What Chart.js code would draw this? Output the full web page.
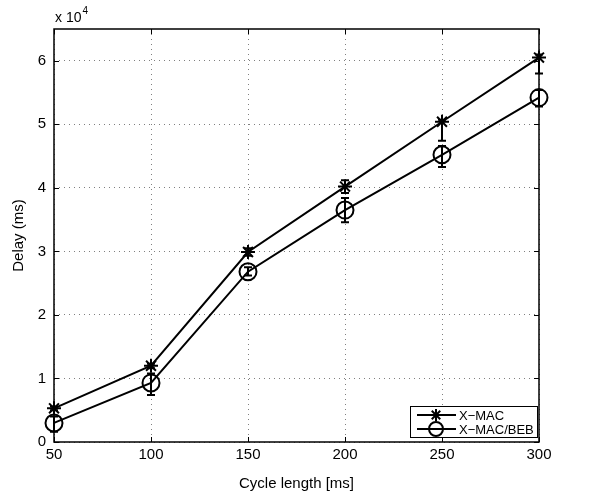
<!DOCTYPE html>
<html>
<head>
<meta charset="utf-8">
<script src="https://cdn.jsdelivr.net/npm/chart.js@4"></script>
<style>
  html, body { margin: 0; padding: 0; background: #fff; }
  #wrap { width: 603px; height: 495px; }
</style>
</head>
<body>
<div id="wrap"><canvas id="delayChart" width="603" height="495"></canvas></div>
<script>
// cycle length values (x axis)
const cycleLengths = [50, 100, 150, 200, 250, 300];

// X-MAC delay (ms) and its error bar bounds
const xmacDelay = [5300, 12000, 29900, 40200, 50400, 60500];
const xmacLow   = [5000, 11600, 29300, 39200, 47400, 58000];
const xmacHigh  = [5600, 12300, 30500, 41200, 50700, 61000];

// X-MAC/BEB delay (ms) and its error bar bounds
const bebDelay = [3000, 9300, 26800, 36500, 45200, 54200];
const bebLow   = [1600, 7400, 26200, 34600, 43300, 52800];
const bebHigh  = [4000, 10800, 27500, 38400, 46600, 55400];

const xTicks = [50, 100, 150, 200, 250, 300];
const yTicks = [0, 10000, 20000, 30000, 40000, 50000, 60000];

const FONT = '"Liberation Sans", Arial, Helvetica, sans-serif';

function toPoints(ys) {
  return cycleLengths.map((x, i) => ({ x: x, y: ys[i] }));
}

// vertical error bars with caps, placed through the chart scales
const errorBars = {
  id: 'errorBars',
  afterDatasetsDraw(chart) {
    const ctx = chart.ctx;
    const xs = chart.scales.x, ys = chart.scales.y;
    chart.data.datasets.forEach(ds => {
      if (!ds.low) return;
      ctx.save();
      ctx.strokeStyle = '#000';
      ctx.lineWidth = 2;
      ds.data.forEach((p, i) => {
        const px = xs.getPixelForValue(p.x);
        const lo = ys.getPixelForValue(ds.low[i]);
        const hi = ys.getPixelForValue(ds.high[i]);
        ctx.beginPath();
        ctx.moveTo(px, lo); ctx.lineTo(px, hi);
        ctx.moveTo(px - 4, lo); ctx.lineTo(px + 4, lo);
        ctx.moveTo(px - 4, hi); ctx.lineTo(px + 4, hi);
        ctx.stroke();
      });
      ctx.restore();
    });
  }
};

// matlab style box, inward ticks, exponent label and legend
const frame = {
  id: 'frame',
  afterDraw(chart) {
    const ctx = chart.ctx;
    const a = chart.chartArea;
    const xs = chart.scales.x, ys = chart.scales.y;
    ctx.save();
    ctx.strokeStyle = '#000';
    ctx.lineWidth = 1.5;
    ctx.strokeRect(a.left, a.top, a.right - a.left, a.bottom - a.top);

    ctx.lineWidth = 1;
    ctx.beginPath();
    xTicks.forEach(v => {
      const px = Math.round(xs.getPixelForValue(v)) + 0.5;
      ctx.moveTo(px, a.bottom); ctx.lineTo(px, a.bottom - 5);
      ctx.moveTo(px, a.top); ctx.lineTo(px, a.top + 5);
    });
    yTicks.forEach(v => {
      const py = Math.round(ys.getPixelForValue(v)) + 0.5;
      ctx.moveTo(a.left, py); ctx.lineTo(a.left + 5, py);
      ctx.moveTo(a.right, py); ctx.lineTo(a.right - 5, py);
    });
    ctx.stroke();

    // x 10^4
    ctx.fillStyle = '#000';
    ctx.textBaseline = 'alphabetic';
    ctx.textAlign = 'left';
    ctx.font = '14px ' + FONT;
    ctx.fillText('x 10', a.left + 1, a.top - 7);
    const w = ctx.measureText('x 10').width;
    ctx.font = '10px ' + FONT;
    ctx.fillText('4', a.left + 1 + w + 1, a.top - 15);

    // legend box
    const bx = 410, by = 406, bw = 127, bh = 31;
    ctx.fillStyle = '#fff';
    ctx.fillRect(bx, by, bw, bh);
    ctx.lineWidth = 1;
    ctx.strokeStyle = '#000';
    ctx.strokeRect(bx + 0.5, by + 0.5, bw, bh);
    chart.data.datasets.forEach((ds, i) => {
      const ly = by + 9 + i * 14;
      ctx.lineWidth = 2;
      ctx.strokeStyle = '#000';
      ctx.beginPath();
      ctx.moveTo(bx + 7, ly); ctx.lineTo(bx + 46, ly);
      ctx.stroke();
      ctx.fillStyle = 'rgba(0,0,0,0)';
      Chart.helpers.drawPoint(ctx, {
        pointStyle: ds.pointStyle,
        radius: ds.pointStyle === 'circle' ? 7 : 6,
        borderWidth: ds.pointBorderWidth,
        rotation: 0
      }, bx + 26, ly);
      ctx.fillStyle = '#000';
      ctx.font = '13px ' + FONT;
      ctx.textBaseline = 'middle';
      ctx.fillText(ds.label, bx + 49, ly + 1);
    });
    ctx.restore();
  }
};

new Chart(document.getElementById('delayChart'), {
  type: 'line',
  data: {
    datasets: [
      {
        label: 'X\u2212MAC',
        data: toPoints(xmacDelay),
        low: xmacLow,
        high: xmacHigh,
        borderColor: '#000',
        borderWidth: 2,
        pointStyle: 'star',
        pointRadius: 7,
        pointBorderWidth: 2,
        pointBorderColor: '#000',
        pointBackgroundColor: 'rgba(0,0,0,0)',
        tension: 0,
        fill: false,
        clip: false
      },
      {
        label: 'X\u2212MAC/BEB',
        data: toPoints(bebDelay),
        low: bebLow,
        high: bebHigh,
        borderColor: '#000',
        borderWidth: 2,
        pointStyle: 'circle',
        pointRadius: 8.5,
        pointBorderWidth: 2,
        pointBorderColor: '#000',
        pointBackgroundColor: 'rgba(0,0,0,0)',
        tension: 0,
        fill: false,
        clip: false
      }
    ]
  },
  options: {
    responsive: false,
    animation: false,
    events: [],
    layout: { padding: { top: 29, right: 64, left: 10, bottom: 0 } },
    plugins: {
      legend: { display: false },
      tooltip: { enabled: false }
    },
    scales: {
      x: {
        type: 'linear',
        min: 50,
        max: 300,
        afterFit(s) { s.height = 53; },
        afterBuildTicks(s) { s.ticks = xTicks.map(v => ({ value: v })); },
        ticks: {
          color: '#000',
          font: { family: FONT, size: 15 },
          padding: 4,
          maxRotation: 0
        },
        grid: { color: 'rgba(0,0,0,0.5)', drawTicks: false, lineWidth: 1 },
        border: { display: false, dash: [1, 4] },
        title: {
          display: true,
          text: 'Cycle length [ms]',
          color: '#000',
          font: { family: FONT, size: 15 },
          padding: { top: 4, bottom: 2 }
        }
      },
      y: {
        type: 'linear',
        min: 0,
        max: 65000,
        afterFit(s) { s.width = 44; },
        afterBuildTicks(s) { s.ticks = yTicks.map(v => ({ value: v })); },
        ticks: {
          color: '#000',
          font: { family: FONT, size: 15 },
          padding: 8,
          callback: v => v / 10000
        },
        grid: { color: 'rgba(0,0,0,0.5)', drawTicks: false, lineWidth: 1 },
        border: { display: false, dash: [1, 4] },
        title: {
          display: true,
          text: 'Delay (ms)',
          color: '#000',
          font: { family: FONT, size: 15 },
          padding: { top: 0, bottom: 0 }
        }
      }
    }
  },
  plugins: [errorBars, frame]
});
</script>
</body>
</html>
